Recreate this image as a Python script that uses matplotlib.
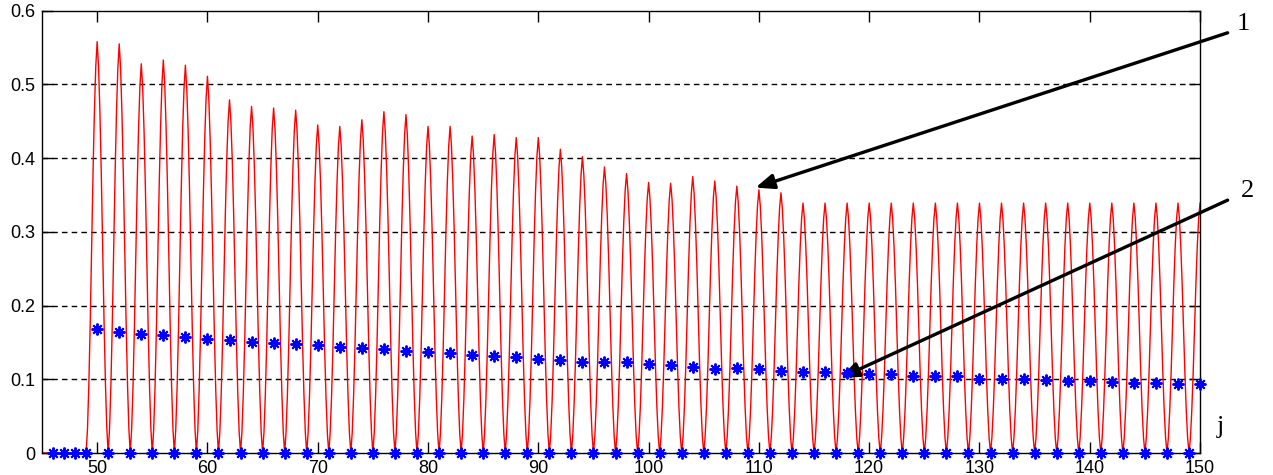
import matplotlib
matplotlib.use("Agg")
import matplotlib.pyplot as plt

# ---- data ----
j_lead = [45, 46, 47, 48, 49]                 # quiet start (all zero)
j_even = list(range(50, 151, 2))              # even samples (peaks)
j_odd = list(range(51, 150, 2))               # odd samples (zero)

red_peaks = [0.558, 0.555, 0.528, 0.533, 0.526, 0.511, 0.479, 0.470, 0.468, 0.465,
             0.445, 0.443, 0.452, 0.463, 0.459, 0.443, 0.443, 0.430, 0.432, 0.428,
             0.428, 0.412, 0.402, 0.388, 0.379, 0.367, 0.366, 0.375, 0.369, 0.362,
             0.357, 0.353, 0.339, 0.339, 0.339, 0.339, 0.339, 0.339, 0.339, 0.339,
             0.339, 0.339, 0.339, 0.339, 0.339, 0.339, 0.339, 0.339, 0.339, 0.339,
             0.339]

# relative level of the red curve at offsets of 1/8 from a peak (read from the staircase)
peak_offsets = [0.0, 0.125, 0.25, 0.375, 0.5, 0.625, 0.75, 0.875, 1.0]
peak_profile = [1.00, 0.94, 0.83, 0.68, 0.50, 0.32, 0.17, 0.06, 0.0]

blue_even = [0.168, 0.164, 0.162, 0.160, 0.157, 0.155, 0.153, 0.151, 0.149, 0.148,
             0.146, 0.144, 0.142, 0.141, 0.139, 0.137, 0.135, 0.133, 0.131, 0.130,
             0.128, 0.126, 0.124, 0.123, 0.123, 0.121, 0.119, 0.117, 0.114, 0.115,
             0.114, 0.111, 0.110, 0.110, 0.109, 0.107, 0.107, 0.105, 0.104, 0.104,
             0.101, 0.101, 0.100, 0.099, 0.098, 0.097, 0.096, 0.095, 0.095, 0.093,
             0.094]

blue_lead_j = [46, 47, 48, 49]

xticks = [50, 60, 70, 80, 90, 100, 110, 120, 130, 140, 150]
yticks = [0, 0.1, 0.2, 0.3, 0.4, 0.5, 0.6]
ytick_labels = ["0", "0.1", "0.2", "0.3", "0.4", "0.5", "0.6"]

# ---- build red series: each peak with its read profile on both sides ----
red_x = list(j_lead[:-1])
red_y = [0.0] * (len(j_lead) - 1)
for je, pk in zip(j_even, red_peaks):
    for off, rel in zip(reversed(peak_offsets), reversed(peak_profile)):
        red_x.append(je - off)
        red_y.append(pk * rel)
    if je < j_even[-1]:
        for off, rel in zip(peak_offsets[1:-1], peak_profile[1:-1]):
            red_x.append(je + off)
            red_y.append(pk * rel)

fig = plt.figure(figsize=(12.73, 4.75), dpi=100)
ax = fig.add_axes([0.033, 0.0463, 0.9097, 0.9312])

ax.plot(red_x, red_y, color="#ff0000", lw=1.0, zorder=2)

star = (8, 2, 0)
mk = dict(linestyle="none", marker=star, ms=8.5, mew=1.4, color="#0000ff",
          clip_on=False, zorder=4)
ax.plot(j_even, blue_even, **mk)
ax.plot(j_odd, [0.0] * len(j_odd), **mk)
ax.plot(blue_lead_j, [0.0] * len(blue_lead_j), **mk)

ax.set_xlim(45, 150)
ax.set_ylim(0, 0.6)
ax.set_xticks(xticks)
ax.set_yticks(yticks)
ax.set_yticklabels(ytick_labels)

for yv in yticks[1:-1]:
    ax.axhline(yv, color="black", lw=1.0, linestyle=(0, (4, 3)), zorder=1)

ax.tick_params(direction="in", length=8, width=1, top=True, right=True,
               labelsize=13, pad=5)
for lab in ax.get_xticklabels() + ax.get_yticklabels():
    lab.set_family("Liberation Sans")
for sp in ax.spines.values():
    sp.set_linewidth(1.0)
    sp.set_color("black")

serif = "Liberation Serif"
arrow = dict(arrowstyle="-|>,head_length=1.1,head_width=0.45",
             color="black", lw=2.4, shrinkA=0, shrinkB=0)
ax.annotate("", xy=(109.7, 0.36), xytext=(152.5, 0.57), annotation_clip=False,
            arrowprops=arrow)
ax.annotate("", xy=(117.4, 0.102), xytext=(152.5, 0.343), annotation_clip=False,
            arrowprops=arrow)
ax.text(153.9, 0.582, "1", family=serif, fontsize=19, ha="center", va="center",
        clip_on=False)
ax.text(154.3, 0.355, "2", family=serif, fontsize=19, ha="center", va="center",
        clip_on=False)
ax.text(151.8, 0.035, "j", family=serif, fontsize=19, ha="center", va="center",
        clip_on=False)

fig.savefig("out.png", dpi=100)
